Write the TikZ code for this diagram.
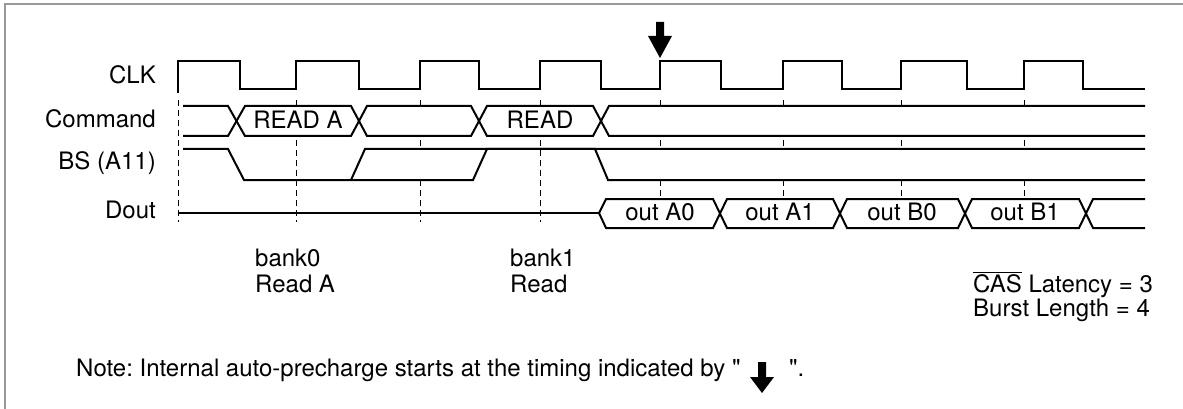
\documentclass[tikz,border=0pt]{standalone}
\usepackage{fontspec}
\newfontfamily\hv{TeX Gyre Heros}
\definecolor{framegray}{gray}{0.6}
\frenchspacing
\begin{document}
\begin{tikzpicture}[x=1pt,y=-1pt,
  txt/.style={font=\hv\fontsize{24}{28}\selectfont, inner sep=0pt},
  sig/.style={line width=2pt, line join=miter},
  clk/.style={line width=2.2pt, line join=miter},
  grid/.style={line width=1pt, dash pattern=on 6pt off 4pt},
  framel/.style={draw=framegray, line width=2pt},
  bigarrow/.style={fill=black}]
\useasboundingbox (0,0) rectangle (1183,409);
% frame
\draw[framel] (5,409) -- (5,4) -- (1183,4);
% dashed timing lines
\foreach \x in {178,296,420,540,660,783,901,1024}
  \draw[grid] (\x,100) -- (\x,222);
% white fills of bus regions
\fill[white] (183,106) rectangle (1145,136);
\fill[white] (351,180) -- (365,149) -- (487,149) -- (473,180) -- cycle;
\fill[white] (595,149) -- (1145,149) -- (1145,180) -- (608,180) -- cycle;
\fill[white] (599,213) -- (606,199) -- (1145,199) -- (1145,228) -- (606,228) -- cycle;
% CLK
\draw[clk] (178,93) -- (178,61) -- (240,61) -- (240,89) -- (296,89) -- (296,61)
  -- (359,61) -- (359,89) -- (420,89) -- (420,61) -- (479,61) -- (479,89)
  -- (540,89) -- (540,61) -- (601,61) -- (601,89) -- (660,89) -- (660,61)
  -- (721,61) -- (721,89) -- (783,89) -- (783,61) -- (842,61) -- (842,89)
  -- (901,89) -- (901,61) -- (967,61) -- (967,89) -- (1024,89) -- (1024,61)
  -- (1083,61) -- (1083,89) -- (1145,89);
% Command
\draw[sig] (183,106) -- (228,106) -- (245,136) -- (351,136) -- (367,106) -- (471,106)
  -- (487,136) -- (593,136) -- (609,106) -- (1145,106);
\draw[sig] (183,136) -- (228,136) -- (245,106) -- (351,106) -- (367,136) -- (471,136)
  -- (487,106) -- (593,106) -- (609,136) -- (1145,136);
% BS (A11)
\draw[sig] (183,149) -- (228,149) -- (244,180) -- (473,180) -- (487,149) -- (595,149)
  -- (608,180) -- (1145,180);
\draw[sig] (351,180) -- (365,149) -- (1145,149);
% Dout
\draw[sig] (178,213) -- (599,213);
\draw[sig] (599,213) -- (606,199) -- (713,199) -- (727,228) -- (833,228) -- (847,199)
  -- (958,199) -- (972,228) -- (1079,228) -- (1093,199) -- (1145,199);
\draw[sig] (599,213) -- (606,228) -- (713,228) -- (727,199) -- (833,199) -- (847,228)
  -- (958,228) -- (972,199) -- (1079,199) -- (1093,228) -- (1145,228);
% signal names
\node[txt, anchor=base east] (lclk) at (156,84) {CLK};
\node[txt, anchor=base east] (lcmd) at (156,128) {Command};
\node[txt, anchor=base east] (lbs) at (156,169) {BS (A11)};
\node[txt, anchor=base east] (ldout) at (156,218.5) {Dout};
% bus contents
\node[txt, anchor=base] (ra) at (298,128.5) {READ A};
\node[txt, anchor=base] (rb) at (540,128.5) {READ};
\node[txt, anchor=base] (oa0) at (660,220) {out A0};
\node[txt, anchor=base] (oa1) at (780,220) {out A1};
\node[txt, anchor=base] (ob0) at (902,220) {out B0};
\node[txt, anchor=base] (ob1) at (1025,220) {out B1};
% annotations
\node[txt, anchor=base west] (b0) at (255,266.5) {bank0};
\node[txt, anchor=base west] (b0r) at (255,292) {Read A};
\node[txt, anchor=base west] (b1) at (510,266.5) {bank1};
\node[txt, anchor=base west] (b1r) at (510,292) {Read};
\node[txt, anchor=base west] (cas) at (973,292) {$\overline{\hbox{\hv\fontsize{24}{28}\selectfont CAS}}$ Latency = 3};
\node[txt, anchor=base west] (bl) at (973,316) {Burst Length = 4};
% big arrow
\fill[bigarrow] (656,22) -- (664,22) -- (664,36) -- (672,36) -- (660,58) -- (648,36) -- (656,36) -- cycle;
% note
\node[txt, anchor=base west] (note) at (76,376) {Note: Internal auto-precharge starts at the timing indicated by "};
\fill[bigarrow] (758,362) -- (766,362) -- (766,377) -- (774,377) -- (762,393) -- (750,377) -- (758,377) -- cycle;
\node[txt, anchor=base west] (noteend) at (789,376) {".};
\end{tikzpicture}
\end{document}
